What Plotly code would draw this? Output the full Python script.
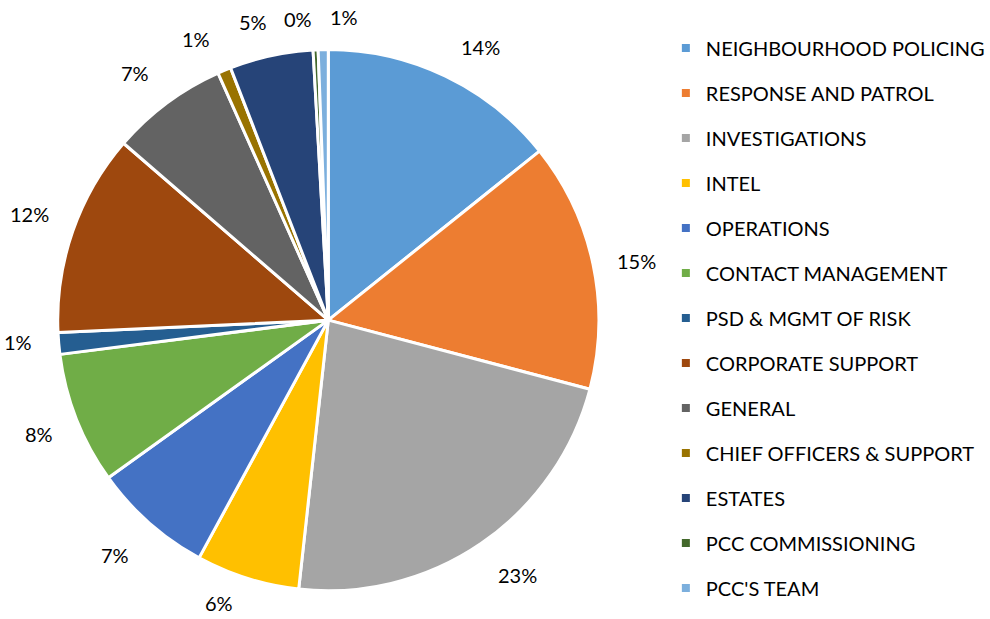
import math
import plotly.graph_objects as go

categories = ["NEIGHBOURHOOD POLICING", "RESPONSE AND PATROL", "INVESTIGATIONS", "INTEL",
              "OPERATIONS", "CONTACT MANAGEMENT", "PSD & MGMT OF RISK", "CORPORATE SUPPORT",
              "GENERAL", "CHIEF OFFICERS & SUPPORT", "ESTATES", "PCC COMMISSIONING", "PCC'S TEAM"]
values = [14.3, 14.9, 22.7, 6.2, 7.2, 7.9, 1.3, 12.1, 7.0, 0.8, 5.0, 0.3, 0.6]
colors = ["#5B9BD5", "#ED7D31", "#A5A5A5", "#FFC000", "#4472C4", "#70AD47", "#255E91",
          "#9E480E", "#636363", "#997300", "#264478", "#43682B", "#7CAFDD"]

# label placement tweaks (degrees of rotation, radial factor) - layout only
label_nudge_deg = [3.6, 1.1, -2.3, 3.8, 1.0, 0.0, 1.0, 0.3, -1.6, -2.6, -2.0, -3.0, 4.0]
label_radius = [1.15, 1.16, 1.17, 1.115, 1.17, 1.15, 1.15, 1.17, 1.155, 1.145, 1.13, 1.115, 1.115]

FONT = "Lato"
W, H = 990, 619
DOM_X = [0.0586, 0.608]
DOM_Y = [0.0436, 0.922]

fig = go.Figure()
fig.add_trace(go.Pie(
    labels=categories, values=values, sort=False, direction="clockwise", rotation=0,
    marker=dict(colors=colors, line=dict(color="white", width=3)),
    textinfo="none", showlegend=False,
    domain=dict(x=DOM_X, y=DOM_Y), hoverinfo="label+percent",
))

# percentage labels outside the pie, derived from the values
total = sum(values)
cx = (DOM_X[0] + DOM_X[1]) / 2 * W
cy = (DOM_Y[0] + DOM_Y[1]) / 2 * H
r = min((DOM_X[1] - DOM_X[0]) * W, (DOM_Y[1] - DOM_Y[0]) * H) / 2
cum = 0.0
for v, nd, rf in zip(values, label_nudge_deg, label_radius):
    mid = (cum + v / 2) / total * 360 + nd
    cum += v
    a = math.radians(mid)
    px = cx + r * rf * math.sin(a)
    py = cy + r * rf * math.cos(a)
    fig.add_annotation(x=px / W, y=py / H, xref="paper", yref="paper",
                       text=f"{round(v / total * 100):.0f}%", showarrow=False,
                       xanchor="center", yanchor="middle",
                       font=dict(family=FONT, size=20, color="#000000"))

for name, col in zip(categories, colors):
    fig.add_trace(go.Scatter(x=[None], y=[None], mode="markers", name=name,
                             legendgroup=name,
                             marker=dict(symbol="square", size=8, color=col)))

fig.update_layout(
    width=W, height=H, margin=dict(l=0, r=0, t=0, b=0),
    paper_bgcolor="white", plot_bgcolor="white",
    xaxis=dict(visible=False), yaxis=dict(visible=False),
    legend=dict(x=0.676, y=0.954, xanchor="left", yanchor="top",
                font=dict(family=FONT, size=20, color="#000000"),
                tracegroupgap=16, itemwidth=30),
)
fig.write_html("out.html", config={"displayModeBar": False},
               post_script="document.body.style.margin='0';document.body.style.overflow='hidden';")
